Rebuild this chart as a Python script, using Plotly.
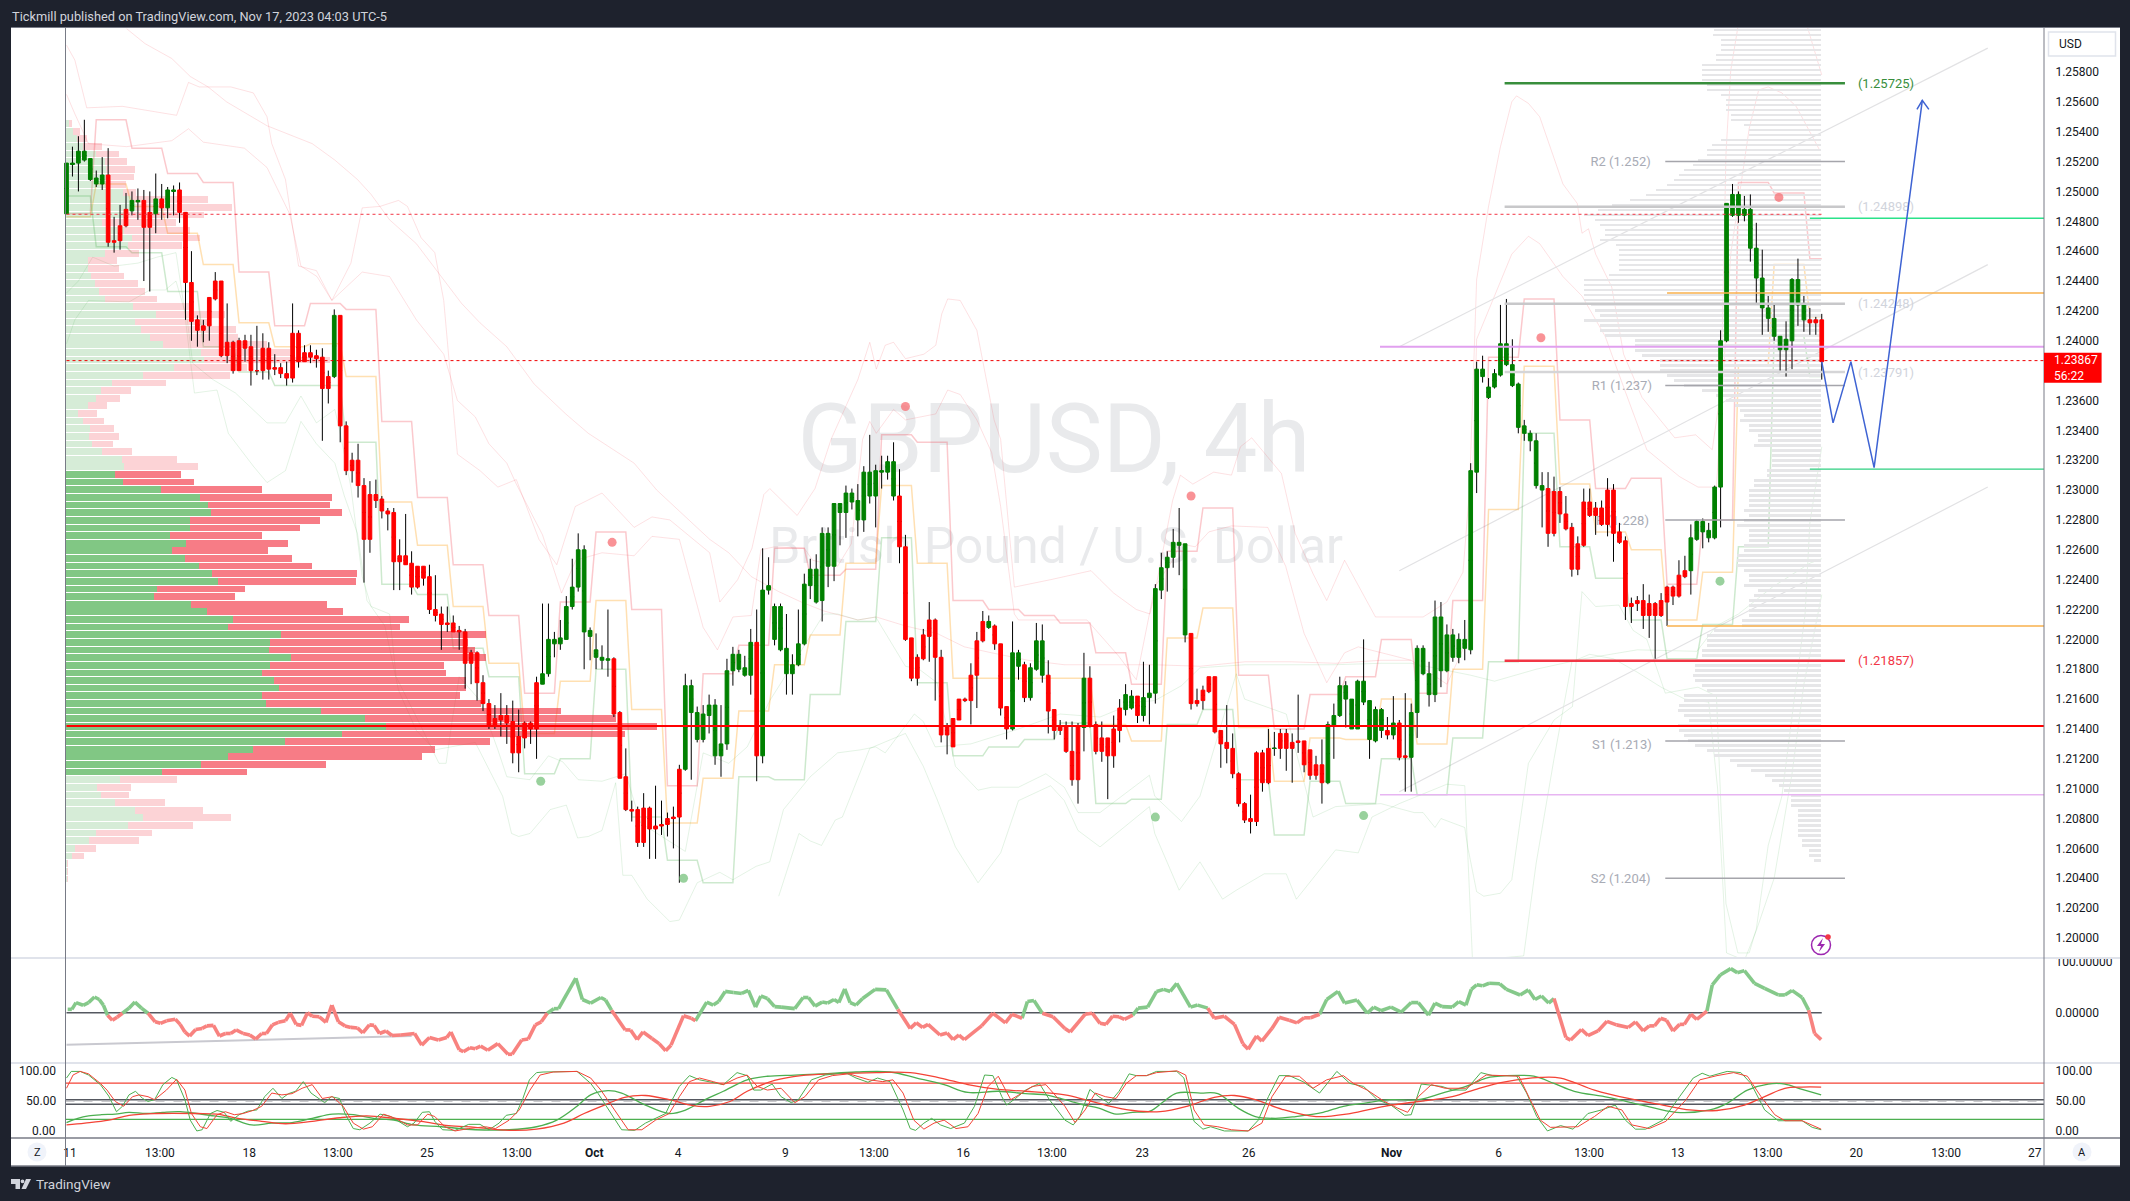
import plotly.graph_objects as go

W, H = 2130, 1201
DARK = "#1e222d"

# ---------------------------------------------------------------- candles
high = [1.2519,1.2530,1.2537,1.2548,1.2522,1.2514,1.2523,1.2529,1.2483,1.2491,
1.2499,1.2500,1.2502,1.2501,1.2500,1.2512,1.2505,1.2503,1.2504,1.2506,
1.2486,1.2460,1.2417,1.2414,1.2429,1.2446,1.2440,1.2425,1.2400,1.2402,
1.2404,1.2404,1.2410,1.2405,1.2399,1.2391,1.2385,1.2386,1.2425,1.2407,
1.2397,1.2397,1.2394,1.2395,1.2380,1.2421,1.2417,1.2346,1.2325,1.2331,
1.2308,1.2306,1.2307,1.2296,1.2288,1.2288,1.2267,1.2284,1.2259,1.2249,
1.2249,1.2250,1.2243,1.2222,1.2222,1.2216,1.2209,1.2207,1.2193,1.2192,
1.2176,1.2160,1.2156,1.2164,1.2156,1.2159,1.2153,1.2145,1.2145,1.2175,
1.2224,1.2224,1.2205,1.2213,1.2229,1.2254,1.2271,1.2263,1.2208,1.2204,
1.2196,1.2220,1.2188,1.2152,1.2127,1.2092,1.2088,1.2097,1.2088,1.2102,
1.2092,1.2084,1.2088,1.2116,1.2177,1.2173,1.2155,1.2156,1.2163,1.2160,
1.2156,1.2187,1.2195,1.2193,1.2189,1.2207,1.2220,1.2261,1.2255,1.2224,
1.2224,1.2217,1.2190,1.2220,1.2244,1.2254,1.2257,1.2275,1.2275,1.2291,
1.2291,1.2303,1.2301,1.2304,1.2316,1.2337,1.2317,1.2323,1.2323,1.2332,
1.2314,1.2270,1.2201,1.2190,1.2207,1.2225,1.2214,1.2193,1.2144,1.2147,
1.2160,1.2161,1.2184,1.2205,1.2219,1.2216,1.2210,1.2197,1.2155,1.2212,
1.2193,1.2185,1.2184,1.2211,1.2210,1.2186,1.2153,1.2146,1.2145,1.2145,
1.2144,1.2191,1.2182,1.2145,1.2145,1.2134,1.2149,1.2160,1.2170,1.2166,
1.2162,1.2185,1.2183,1.2237,1.2258,1.2259,1.2274,1.2288,1.2264,1.2204,
1.2167,1.2169,1.2175,1.2175,1.2139,1.2156,1.2137,1.2111,1.2091,1.2096,
1.2125,1.2126,1.2140,1.2138,1.2140,1.2140,1.2137,1.2163,1.2132,1.2126,
1.2122,1.2133,1.2145,1.2157,1.2175,1.2172,1.2160,1.2173,1.2200,1.2159,
1.2155,1.2154,1.2148,1.2162,1.2146,1.2164,1.2157,1.2196,1.2196,1.2185,
1.2226,1.2225,1.2210,1.2207,1.2204,1.2213,1.2318,1.2386,1.2390,1.2375,
1.2381,1.2424,1.2428,1.2401,1.2372,1.2347,1.2340,1.2338,1.2312,1.2312,
1.2309,1.2302,1.2296,1.2278,1.2269,1.2301,1.2301,1.2292,1.2293,1.2308,
1.2304,1.2278,1.2269,1.2228,1.2229,1.2237,1.2230,1.2225,1.2231,1.2236,
1.2236,1.2253,1.2256,1.2277,1.2280,1.2281,1.2278,1.2303,1.2407,1.2492,
1.2505,1.2500,1.2497,1.2498,1.2479,1.2461,1.2430,1.2424,1.2403,1.2413,
1.2442,1.2455,1.2430,1.2422,1.2416,1.2418]
body_top = [1.2519,1.2519,1.2527,1.2527,1.2522,1.2509,1.2511,1.2511,1.2467,1.2477,
1.2488,1.2494,1.2494,1.2494,1.2486,1.2495,1.2495,1.2501,1.2501,1.2501,
1.2486,1.2439,1.2414,1.2410,1.2429,1.2440,1.2440,1.2399,1.2399,1.2400,
1.2400,1.2396,1.2380,1.2395,1.2395,1.2382,1.2382,1.2378,1.2405,1.2405,
1.2392,1.2392,1.2390,1.2389,1.2376,1.2417,1.2417,1.2343,1.2320,1.2320,
1.2303,1.2297,1.2297,1.2294,1.2286,1.2285,1.2256,1.2256,1.2251,1.2249,
1.2249,1.2242,1.2220,1.2217,1.2211,1.2211,1.2206,1.2205,1.2191,1.2191,
1.2171,1.2157,1.2147,1.2149,1.2149,1.2145,1.2135,1.2144,1.2144,1.2171,
1.2177,1.2200,1.2200,1.2201,1.2222,1.2235,1.2260,1.2260,1.2206,1.2193,
1.2188,1.2187,1.2187,1.2151,1.2108,1.2086,1.2086,1.2087,1.2087,1.2075,
1.2076,1.2080,1.2081,1.2113,1.2169,1.2169,1.2151,1.2150,1.2156,1.2156,
1.2130,1.2179,1.2190,1.2190,1.2181,1.2198,1.2198,1.2233,1.2236,1.2222,
1.2222,1.2194,1.2183,1.2197,1.2237,1.2247,1.2247,1.2271,1.2271,1.2291,
1.2291,1.2298,1.2298,1.2293,1.2312,1.2312,1.2313,1.2313,1.2319,1.2319,
1.2296,1.2262,1.2201,1.2188,1.2203,1.2213,1.2213,1.2188,1.2142,1.2147,
1.2160,1.2160,1.2176,1.2199,1.2212,1.2212,1.2209,1.2197,1.2155,1.2191,
1.2191,1.2183,1.2181,1.2199,1.2199,1.2176,1.2153,1.2142,1.2142,1.2125,
1.2142,1.2174,1.2174,1.2143,1.2134,1.2134,1.2140,1.2154,1.2163,1.2162,
1.2162,1.2161,1.2164,1.2234,1.2248,1.2255,1.2265,1.2265,1.2264,1.2204,
1.2159,1.2166,1.2175,1.2175,1.2139,1.2131,1.2127,1.2110,1.2090,1.2080,
1.2124,1.2124,1.2127,1.2127,1.2137,1.2137,1.2131,1.2132,1.2132,1.2126,
1.2116,1.2116,1.2143,1.2149,1.2169,1.2169,1.2160,1.2172,1.2172,1.2159,
1.2153,1.2153,1.2139,1.2144,1.2144,1.2122,1.2151,1.2194,1.2194,1.2177,
1.2215,1.2215,1.2203,1.2203,1.2200,1.2200,1.2313,1.2381,1.2381,1.2369,
1.2378,1.2398,1.2398,1.2384,1.2371,1.2343,1.2338,1.2333,1.2303,1.2301,
1.2299,1.2299,1.2284,1.2275,1.2264,1.2292,1.2292,1.2288,1.2288,1.2300,
1.2300,1.2272,1.2266,1.2224,1.2226,1.2226,1.2224,1.2224,1.2226,1.2235,
1.2235,1.2243,1.2246,1.2268,1.2279,1.2279,1.2273,1.2302,1.2400,1.2492,
1.2498,1.2498,1.2488,1.2488,1.2462,1.2442,1.2422,1.2415,1.2403,1.2401,
1.2441,1.2441,1.2425,1.2414,1.2414,1.2414]
body_bot = [1.2485,1.2518,1.2519,1.2521,1.2508,1.2505,1.2505,1.2466,1.2466,1.2467,
1.2477,1.2487,1.2493,1.2476,1.2476,1.2485,1.2489,1.2489,1.2500,1.2486,
1.2439,1.2413,1.2407,1.2407,1.2410,1.2428,1.2390,1.2390,1.2380,1.2380,
1.2395,1.2380,1.2380,1.2380,1.2381,1.2381,1.2378,1.2375,1.2375,1.2386,
1.2386,1.2389,1.2388,1.2368,1.2368,1.2376,1.2343,1.2313,1.2313,1.2303,
1.2267,1.2267,1.2293,1.2286,1.2284,1.2252,1.2252,1.2250,1.2235,1.2235,
1.2241,1.2220,1.2216,1.2210,1.2210,1.2205,1.2205,1.2184,1.2184,1.2171,
1.2157,1.2142,1.2142,1.2146,1.2144,1.2124,1.2124,1.2134,1.2140,1.2140,
1.2170,1.2177,1.2197,1.2197,1.2200,1.2222,1.2235,1.2205,1.2202,1.2188,
1.2186,1.2186,1.2150,1.2107,1.2086,1.2085,1.2064,1.2064,1.2073,1.2073,
1.2075,1.2076,1.2080,1.2081,1.2113,1.2151,1.2133,1.2133,1.2149,1.2122,
1.2122,1.2130,1.2179,1.2180,1.2176,1.2176,1.2122,1.2122,1.2233,1.2200,
1.2193,1.2177,1.2177,1.2183,1.2197,1.2236,1.2225,1.2226,1.2249,1.2249,
1.2285,1.2285,1.2292,1.2280,1.2280,1.2296,1.2296,1.2312,1.2312,1.2296,
1.2262,1.2200,1.2174,1.2174,1.2187,1.2202,1.2188,1.2136,1.2136,1.2128,
1.2146,1.2159,1.2159,1.2176,1.2199,1.2208,1.2197,1.2154,1.2140,1.2140,
1.2182,1.2161,1.2161,1.2180,1.2176,1.2152,1.2139,1.2139,1.2125,1.2106,
1.2106,1.2141,1.2142,1.2125,1.2125,1.2122,1.2122,1.2139,1.2153,1.2154,
1.2149,1.2149,1.2161,1.2164,1.2233,1.2248,1.2255,1.2263,1.2203,1.2157,
1.2157,1.2159,1.2165,1.2138,1.2130,1.2127,1.2110,1.2090,1.2079,1.2078,
1.2078,1.2104,1.2104,1.2127,1.2127,1.2127,1.2127,1.2131,1.2116,1.2109,
1.2109,1.2104,1.2104,1.2142,1.2149,1.2160,1.2140,1.2140,1.2158,1.2133,
1.2132,1.2139,1.2136,1.2136,1.2121,1.2121,1.2121,1.2151,1.2177,1.2163,
1.2163,1.2179,1.2179,1.2188,1.2188,1.2194,1.2193,1.2312,1.2376,1.2362,
1.2369,1.2377,1.2384,1.2370,1.2342,1.2338,1.2333,1.2303,1.2300,1.2271,
1.2271,1.2284,1.2274,1.2247,1.2247,1.2263,1.2283,1.2283,1.2277,1.2277,
1.2271,1.2265,1.2222,1.2222,1.2224,1.2216,1.2216,1.2216,1.2216,1.2225,
1.2229,1.2229,1.2242,1.2246,1.2267,1.2272,1.2268,1.2268,1.2302,1.2400,
1.2484,1.2484,1.2484,1.2462,1.2442,1.2422,1.2415,1.2403,1.2394,1.2394,
1.2400,1.2424,1.2414,1.2412,1.2412,1.2386]
low = [1.2485,1.2510,1.2500,1.2520,1.2507,1.2503,1.2501,1.2463,1.2459,1.2461,
1.2476,1.2484,1.2481,1.2440,1.2433,1.2472,1.2481,1.2482,1.2484,1.2479,
1.2414,1.2400,1.2396,1.2399,1.2400,1.2427,1.2389,1.2385,1.2378,1.2380,
1.2386,1.2370,1.2377,1.2374,1.2374,1.2377,1.2375,1.2370,1.2372,1.2382,
1.2386,1.2385,1.2382,1.2333,1.2358,1.2375,1.2332,1.2310,1.2305,1.2295,
1.2238,1.2258,1.2288,1.2281,1.2273,1.2233,1.2233,1.2250,1.2230,1.2234,
1.2236,1.2217,1.2212,1.2193,1.2205,1.2205,1.2193,1.2167,1.2170,1.2159,
1.2152,1.2140,1.2140,1.2135,1.2130,1.2117,1.2111,1.2127,1.2130,1.2120,
1.2170,1.2175,1.2188,1.2193,1.2200,1.2220,1.2232,1.2180,1.2186,1.2180,
1.2180,1.2175,1.2148,1.2107,1.2085,1.2078,1.2061,1.2061,1.2053,1.2053,
1.2069,1.2068,1.2060,1.2037,1.2112,1.2106,1.2131,1.2131,1.2137,1.2116,
1.2108,1.2126,1.2169,1.2178,1.2175,1.2163,1.2105,1.2117,1.2230,1.2196,
1.2192,1.2163,1.2163,1.2182,1.2196,1.2227,1.2224,1.2212,1.2235,1.2239,
1.2263,1.2268,1.2287,1.2269,1.2272,1.2291,1.2275,1.2301,1.2307,1.2293,
1.2251,1.2199,1.2172,1.2169,1.2186,1.2185,1.2159,1.2131,1.2123,1.2128,
1.2146,1.2158,1.2143,1.2154,1.2198,1.2207,1.2193,1.2149,1.2133,1.2139,
1.2173,1.2158,1.2159,1.2179,1.2171,1.2137,1.2133,1.2136,1.2124,1.2102,
1.2090,1.2125,1.2141,1.2123,1.2118,1.2093,1.2114,1.2131,1.2149,1.2153,
1.2144,1.2145,1.2143,1.2157,1.2227,1.2232,1.2248,1.2243,1.2198,1.2153,
1.2155,1.2153,1.2164,1.2137,1.2114,1.2117,1.2107,1.2088,1.2077,1.2070,
1.2075,1.2098,1.2103,1.2122,1.2120,1.2112,1.2104,1.2124,1.2111,1.2106,
1.2106,1.2090,1.2103,1.2120,1.2148,1.2141,1.2140,1.2140,1.2156,1.2120,
1.2131,1.2134,1.2133,1.2133,1.2119,1.2098,1.2098,1.2134,1.2176,1.2155,
1.2158,1.2168,1.2178,1.2185,1.2184,1.2186,1.2190,1.2298,1.2372,1.2361,
1.2368,1.2376,1.2383,1.2369,1.2338,1.2333,1.2326,1.2301,1.2275,1.2262,
1.2269,1.2278,1.2273,1.2242,1.2243,1.2262,1.2282,1.2270,1.2276,1.2269,
1.2252,1.2264,1.2213,1.2211,1.2219,1.2207,1.2201,1.2187,1.2215,1.2209,
1.2223,1.2228,1.2241,1.2230,1.2266,1.2261,1.2265,1.2267,1.2275,1.2399,
1.2483,1.2479,1.2480,1.2453,1.2425,1.2404,1.2406,1.2400,1.2380,1.2376,
1.2381,1.2410,1.2406,1.2404,1.2404,1.2374]
bar_color_runs = [("g",7),("r",4),("g",2),("r",2),("g",1),("r",1),("g",2),("r",26),("g",1),("r",34),
("g",12),("r",12),("g",12),("r",1),("g",23),("r",15),("g",1),("r",3),("g",2),("r",1),("g",3),("r",6),
("g",1),("r",6),("g",2),("r",1),("g",8),("r",23),("g",10),("r",1),("g",1),("r",2),("g",23),("r",24),
("g",20),("r",3)]

# ---------------------------------------------------------------- left volume profile (rows from the top)
vp_buy = [7,17,25,38,68,87,90,95,95,127,145,155,130,80,130,147,138,87,50,50,57,65,75,87,149,200,154,166,186,215,
299,306,239,172,102,79,67,49,28,38,54,53,59,81,124,129,
109,127,211,297,314,321,275,275,230,266,235,264,294,323,336,202,195,277,312,370,359,476,451,449,498,451,434,460,471,434,
442,564,662,707,610,485,414,359,300,214,
120,70,78,110,154,172,138,67,52,21,14,4,4,4]
vp_sell = [7,15,22,42,50,48,63,56,38,28,169,213,176,165,145,150,119,76,63,68,72,95,100,115,136,152,168,210,196,230,
196,279,161,191,120,65,53,42,41,47,53,65,46,66,122,163,
146,156,223,291,270,289,287,243,204,225,212,236,250,320,305,194,179,300,300,388,379,452,438,456,430,385,406,424,413,437,
476,530,553,599,625,452,402,428,275,186,
126,74,62,109,149,193,143,124,110,46,27,2,2,2]
vp_top_price, vp_row_step = 1.25455, 0.000511
vp_value_area = (46, 86)

# ---------------------------------------------------------------- right volume profile (rows from the top)
rvp_vol = [230,233,215,215,215,225,225,255,255,255,255,245,245,215,205,205,205,193,193,165,155,155,215,235,245,245,265,275,295,305,
315,330,355,375,410,450,480,510,485,475,465,465,475,440,435,435,435,435,435,455,510,510,510,510,510,495,485,475,510,475,
475,465,400,400,400,385,345,345,345,330,315,295,255,225,205,185,175,165,175,155,155,135,135,145,105,105,105,105,115,115,
145,145,155,155,155,155,165,155,165,180,155,155,155,165,165,180,180,180,165,155,155,165,135,145,155,155,155,155,170,170,
230,245,245,245,255,255,270,270,270,275,270,255,245,295,295,305,308,295,283,308,305,295,285,270,245,230,195,180,150,120,
105,90,80,65,65,65,50,50,50,50,50,50,40,40,25,25,15]
rvp_top_price, rvp_row_step = 1.26080, 0.000335

# ---------------------------------------------------------------- daily step channels
day_start = [0,5,11,17,23,29,35,41,47,53,59,65,71,77,83,89,95,101,107,113,119,125,131,137,143,149,155,161,167,173,179,
185,191,197,203,209,215,221,227,233,239,245,251,257,263,269,275,281,287,293]
day_high = [1.2485,1.2548,1.2529,1.2512,1.2506,1.2446,1.2410,1.2425,1.2421,1.2346,1.2295,
1.2250,1.2216,1.2164,1.2225,1.2272,1.2220,1.2102,1.2177,1.2196,1.2261,
1.2243,1.2247,1.2337,1.2332,1.2226,1.2220,1.2216,1.2211,1.2191,1.2170,
1.2259,1.2288,1.2176,1.2140,1.2163,1.2175,1.2200,1.2164,1.2226,1.2389,
1.2428,1.2347,1.2301,1.2308,1.2237,1.2280,1.2506,1.2499,1.2455]
day_mid = [1.2483,1.2505,1.2490,1.2472,1.2451,1.2412,1.2396,1.2398,1.2376,1.2292,1.2263,
1.2222,1.2184,1.2137,1.2172,1.2226,1.2153,1.2077,1.2107,1.2152,1.2183,
1.2203,1.2251,1.2303,1.2251,1.2174,1.2174,1.2174,1.2174,1.2143,1.2132,
1.2201,1.2221,1.2141,1.2105,1.2134,1.2133,1.2160,1.2130,1.2180,1.2287,
1.2383,1.2304,1.2272,1.2260,1.2213,1.2245,1.2384,1.2451,1.2416]
day_low = [1.2497,1.2463,1.2459,1.2433,1.2396,1.2379,1.2370,1.2370,1.2332,1.2237,1.2230,
1.2194,1.2175,1.2110,1.2120,1.2180,1.2081,1.2052,1.2037,1.2108,1.2106,
1.2163,1.2212,1.2268,1.2171,1.2122,1.2128,1.2133,1.2144,1.2090,1.2093,
1.2143,1.2153,1.2106,1.2069,1.2105,1.2090,1.2120,1.2096,1.2134,1.2185,
1.2338,1.2262,1.2241,1.2213,1.2187,1.2210,1.2262,1.2403,1.2376]

# ---------------------------------------------------------------- pale envelopes
u1_bar = [10.1,13.2,17.7,20.8,23.8,26.9,33.7,38.3,41.3,45.1,48.9,51.2,54.3,58.8,63.4,66.4,69.5,74,78.6,83.9,87.7,95.4,99.2,108.1,
111.3,115.1,119.7,123.5,127.3,133,136.1,141,146.3,150.9,155.5,161.6,167.7,175.3,182.9,190.5,198.1,205.7,213.3,220.9,226]
u1_val = [1.2609,1.2599,1.2589,1.2577,1.2570,1.2560,1.2544,1.2537,1.2532,1.2521,1.2508,1.2498,1.2481,1.2465,1.2441,1.2425,1.2412,1.2396,1.2371,1.2351,1.2338,1.2318,1.2300,1.2267,
1.2258,1.2242,1.2232,1.2225,1.2219,1.2213,1.2215,1.2209,1.2204,1.2195,1.2191,1.2186,1.2183,1.2183,1.2183,1.2182,1.2185,1.2185,1.2184,1.2186,1.2186]
u2_bar = [0,1.4,3.4,9.4,18.5,20.5,22.3,27.6,31.4,33.7,34.5,36.8,39,42,44.6,47.8,49.7,52.7,55.8,57.3,59.6,61.9,63.4,65.7,69.5,72.5,
75.6,79.4,82.4,85.5,90,95.4,98.4,101.4,108.1,109.8,112.8,115.2,117.2,118.2,122.8,125.8,128.5,133,135,136.1,137.6,139,141,144.1,146.1,147.1,148.1,150.2,153,154,155.9,157,
159.3,165.4,172.2,173.7,176,179.8,182.1,182.9,185.9,187.2,189.3,192.8,195.8,197.3,199.2,204.2,206.5,209.5,211.8,214.8,220,228,232,234.7,235.8,237,
239,241,242.9,243.7,245.7,247.6,249.2,251.5,253.9,254.7,255.8,257,259.7,261.7,264.8,270.3,273.8,276.6,278.1,278.9,279.7,280.9,292.6,295]
u2_val = [1.2598,1.2588,1.2556,1.2557,1.2551,1.2573,1.2570,1.2570,1.2566,1.2550,1.2532,1.2508,1.2450,1.2447,1.2427,1.2452,1.2489,1.2490,1.2494,1.2490,1.2469,1.2459,1.2427,1.2324,1.2313,1.2302,
1.2307,1.2267,1.2250,1.2289,1.2298,1.2275,1.2282,1.2280,1.2258,1.2225,1.2240,1.2261,1.2297,1.2301,1.2283,1.2301,1.2334,1.2374,1.2399,1.2381,1.2397,1.2399,1.2388,1.2391,1.2397,1.2418,1.2428,1.2427,1.2407,1.2387,1.2347,1.2334,
1.2235,1.2240,1.2246,1.2240,1.2231,1.2220,1.2217,1.2231,1.2293,1.2310,1.2304,1.2312,1.2310,1.2329,1.2335,1.2311,1.2271,1.2244,1.2226,1.2253,1.2215,1.2215,1.2225,1.2245,1.2300,1.2441,
1.2490,1.2530,1.2560,1.2564,1.2559,1.2550,1.2532,1.2505,1.2492,1.2472,1.2475,1.2458,1.2436,1.2391,1.2362,1.2335,1.2337,1.2327,1.2369,1.2525,1.2581,1.2610,1.2610,1.2578]
u3_bar = [0,1.4,3.7,10.1,17.7,20.5,23,29.9,33.7,37.5,39.4,42.1,44.6,49.7,54.3,58.8,63.4,65.7,68.7,71,74,75.6,80,83.2,85.6,90,95.4,98.4,103,107,109.4,112,115.1,116.7,119,124,125.4,129.6,131.9,133.8,135,136.1,139,141,146.1,148.1,150.2,153,155.5,157,159.3,160,
171.5,176.8,179.8,182.9,185.9,187.2,189.7,192,195.8,201.9,204.9,208,211.8,214.8,217.1,220.9,226,232,235.5,237,242.9,245.7,247.6,249.2,251.5,254.7,258.6,261.7,265.6,271.1,274.2,277.3,279.7,282.8,284.4,286,288.3,290.7,294.6]
u3_val = [1.2565,1.2552,1.2532,1.2530,1.2534,1.2542,1.2533,1.2529,1.2516,1.2485,1.2450,1.2443,1.2427,1.2446,1.2443,1.2414,1.2391,1.2360,1.2349,1.2331,1.2318,1.2304,1.2270,1.2231,1.2253,1.2258,1.2256,1.2269,1.2267,1.2208,1.2193,1.2215,1.2216,1.2260,1.2262,1.2261,1.2253,1.2249,1.2264,1.2334,1.2346,1.2338,1.2354,1.2347,1.2351,1.2367,1.2364,1.2347,1.2325,1.2289,1.2217,1.2213,
1.2213,1.2189,1.2173,1.2235,1.2253,1.2264,1.2262,1.2272,1.2276,1.2275,1.2249,1.2204,1.2171,1.2191,1.2195,1.2191,1.2186,1.2170,1.2200,1.2401,1.2458,1.2470,1.2465,1.2456,1.2443,1.2430,1.2403,1.2369,1.2327,1.2309,1.2302,1.2302,1.2458,1.2542,1.2568,1.2570,1.2566,1.2557,1.2528]
l1_bar = [0,1.4,3.7,10.5,14,16.6,18.4,20.3,21.2,24.6,28.4,33.7,36.8,39.4,42,45.1,46,47.8,49.7,51.2,54.3,55.4,58.8,62.6,63.8,64.9,66,69.5,72.5,74,77.9,81,83.4,86,90,94,96.5,100,104,107,111.3,114.4,118.2,122.8,127.3,129.6,133,136,141,143.3,146.3,149.4,153.2,155.5,160,164.6,167.7,170,173.7,182,182.9,187.4,190.5,196.6,198,205,209.5,213.3,220.9,226.5,228,230,231,235,235.5,237,238.2,241,242.9,245.7,250,253.1,254.7,257,260.9,263.3,265.6,268.7,274.2,277.3,278.1,278.9,280.9,282.8,284,286,288.3,292.2,293,295]
l1_val = [1.2398,1.2414,1.2427,1.2426,1.2434,1.2434,1.2440,1.2414,1.2385,1.2374,1.2365,1.2345,1.2345,1.2363,1.2345,1.2354,1.2338,1.2302,1.2242,1.2222,1.2217,1.2175,1.2148,1.2117,1.2117,1.2148,1.2175,1.2159,1.2126,1.2108,1.2106,1.2122,1.2118,1.2106,1.2105,1.2110,1.2077,1.2068,1.2058,1.2124,1.2117,1.2128,1.2159,1.2188,1.2217,1.2217,1.2213,1.2215,1.2182,1.2180,1.2171,1.2115,1.2099,1.2101,1.2101,1.2110,1.2101,1.2084,1.2084,1.2109,1.2095,1.2078,1.2095,1.2177,1.2160,1.2150,1.2081,1.2088,1.2090,1.2084,1.2084,1.2074,1.2080,1.2074,1.2061,1.2031,1.2028,1.2030,1.2039,1.2117,1.2146,1.2155,1.2232,1.2222,1.2223,1.2206,1.2200,1.2164,1.2168,1.2162,1.2084,1.2023,1.1990,1.1990,1.2006,1.2062,1.2095,1.2217,1.2278,1.2329]
l2_bar = [0,2,4.4,8,12,15.2,18.4,19.6,21.5,25.3,27.2,31.4,33.7,36.8,39.4,42,45.1,46.7,48.9,50.5,53.5,55.8,58.8,61.9,68.7,71,73.3,74.8,76,77.9,81.3,84,85.9,87.7,90,92.3,93.5,95,97.6,101.4,103,106,109.8,112,115.9,118.2,120.5,125,129.6,133.4,136,137.6,142.5,144,146,152,160,167,173.7,179.8,182.9,187.4,190.5,198,213,221,226,236,240,247,255,264,274,277.3,281,286.7,293,295]
l2_val = [1.2432,1.2440,1.2456,1.2450,1.2452,1.2456,1.2459,1.2427,1.2365,1.2367,1.2338,1.2316,1.2305,1.2313,1.2346,1.2331,1.2318,1.2296,1.2271,1.2226,1.2209,1.2166,1.2139,1.2126,1.2131,1.2113,1.2095,1.2070,1.2068,1.2070,1.2086,1.2089,1.2067,1.2068,1.2072,1.2104,1.2042,1.2042,1.2026,1.2011,1.2012,1.2037,1.2044,1.2039,1.2048,1.2051,1.2086,1.2108,1.2124,1.2126,1.2128,1.2124,1.2150,1.2145,1.2128,1.2130,1.2140,1.2150,1.2148,1.2158,1.2159,1.2169,1.2181,1.2183,1.2183,1.2184,1.2184,1.2176,1.2172,1.2180,1.2187,1.2193,1.2192,1.2209,1.2217,1.2235,1.2251,1.2254]
l3_bar = [119.7,123.1,125,126.9,129.2,130.4,135,141,144,146.3,149.4,153.2,157,160,165.4,167.7,170,173.7,182,182.9,187,190.5,194.3,196.6,201.3,205,206.7,213.3,217.1,219.4,224,232,235,236.3,244.9,247,250,253,256,260,264,268,272,276,277.5,279,282,284,287,290,292,295]
l3_val = [1.2028,1.2070,1.2065,1.2062,1.2079,1.2081,1.2127,1.2137,1.2115,1.2093,1.2061,1.2037,1.2057,1.2092,1.2102,1.2092,1.2072,1.2061,1.2088,1.2070,1.2032,1.2051,1.2026,1.2032,1.2043,1.2043,1.2026,1.2059,1.2057,1.2081,1.2090,1.2103,1.2102,1.1985,1.1988,1.2050,1.2120,1.2185,1.2190,1.2187,1.2178,1.2168,1.2160,1.2158,1.2100,1.1990,1.1985,1.2005,1.2040,1.2110,1.2170,1.2230]

# ---------------------------------------------------------------- oscillator pane
osc_bar = [0.2,0.9,1.6,2.8,3.7,4.7,5.5,6.2,6.9,7.7,8.5,9.4,10.5,11.5,12.6,13.7,14.9,15.8,16.8,18.3,19.1,19.9,20.7,21.7,22.8,23.6,24.7,25.7,26.7,27.6,28.5,29.7,30.8,31.8,32.8,33.6,34.6,35.6,36.8,37.6,38.6,39.5,40.5,41.3,42.5,43.6,44.6,45.7,46.8,47.8,48.9,49.8,50.9,51.7,52.6,53.7,54.7,56.2,58.5,59.7,61,62.5,63.9,64.6,66,66.7,67.8,68.7,69.6,70.8,72.5,74.2,74.9,76.5,77.6,78.8,79.8,80.8,81.9,82.7,85.6,86.7,88.1,89.8,90.6,91.6,93.9,94.8,95.9,96.9,98.4,99.6,100.7,101.6,103.7,105,105.7,107.6,108.7,109.6,110.7,112.1,113.5,114.6,115.8,116.7,117.8,119,120.1,122.4,123.8,124.7,125.8,127,127.9,129,129.8,130.8,131.7,132.7,133.8,135.9,137.8,139.7,141.8,142.8,143.9,144.8,146.8,148,149,150,150.9,153.8,155.7,157.8,158.9,160.6,161.5,162.6,164,165.8,167.8,
168.7,171.2,172.4,173.7,174.7,175.8,176.9,177.8,179.2,180.1,181.7,183.2,184.4,185.5,186.6,188.9,190.1,191.8,192.9,194.6,196.3,197.7,198.6,200,200.9,202.6,203.8,205.5,206.8,208,209.1,210.6,211.8,213.7,214.8,216.9,218.6,219.7,220.9,222.6,224.3,226,227.2,228.9,230,231.2,232.9,234,235.2,236.1,237,238,239.1,240.9,242,244.3,245.7,246.8,247.9,249.1,250,252,252.8,254.6,255.7,257.4,258.9,260.5,262.5,263.7,265,266,266.9,267.9,268.9,270,271.1,271.9,273,274,275.7,276.6,278,279.7,280.8,282,283.7,285.4,287.7,288.8,290,291.7,292.8,293.8,294.9]
osc_val = [6.6,6.6,19.9,14.6,19.9,31,26,15,-5,-15,-9,-1,9,21,9,-1,-18,-21,-16,-13,-23,-38,-46,-33,-31,-26,-25,-46,-41,-41,-34,-41,-44,-52,-41,-41,-24,-19,-16,-1,-23,-25,0,-7,-8,-19,15,-18,-26,-29,-30,-40,-24,-25,-41,-36,-45,-44,-41,-64,-49,-54,-49,-38,-73,-77,-69,-71,-66,-74,-61,-82,-82,-54,-52,-24,-18,-1,8,8,68,26,19,30,25,5,-34,-34,-53,-38,-51,-61,-75,-64,-6,-11,-16,21,15,22,42,40,38,44,11,33,28,12,11,8,30,30,13,21,19,26,20,47,20,15,28,46,45,7,-31,-20,-29,-23,-44,-40,-53,-44,-53,-26,-1,-20,-3,-11,22,24,-1,-8,-31,
-38,-3,-1,-21,-23,-7,-8,-13,-5,9,11,42,46,42,58,11,15,9,-11,-7,-23,-61,-72,-46,-56,-31,-9,-15,-20,-10,-10,-3,26,42,19,25,-1,11,4,11,1,20,20,-5,19,12,11,22,15,46,55,53,58,57,46,35,45,26,33,19,28,-49,-54,-33,-45,-36,-17,-24,-29,-18,-36,-26,-26,-11,-15,-36,-23,-23,-3,-13,3,55,75,87,79,83,58,48,35,35,44,30,5,-41,-53]
osc_trend_bar = [0, 58]
osc_trend_val = [-63, -46]

# ---------------------------------------------------------------- stochastic pane
fast_g_bar = [0,.8,2.3,3.7,5.7,7.1,8.4,9.4,10.5,11.6,12.8,13.7,14.8,16.2,17.7,18.5,19.9,20.8,21.9,22.8,24.2,25.3,26.5,27.6,29,30.5,32,33.3,34.7,36.2,37.3,38.5,39.8,41.1,43.4,44.5,45.9,46.8,48.2,49.3,51,52.7,54.5,56.2,57.3,58.4,59.8,61,61.9,63.2,65.3,67.6,69.5,71,72.7,73.9,75.6,76.7,77.8,79,80.1,85.8,88.1,89.3,91.6,93.3,95.5,97.3,100.7,101.8,103,104.7,106.4,108.1,110.4,112.7,114.4,115.5,116.7,118.6,120.1,121.8,123,125.2,127.5,130.9,132.7,134.7,136.3,138.4,140.6,141.8,142.7,144.1,145.4,146.9,148.6,150.9,152.6,154.3,155.7,157.2,158,159.5,161.2,163.5,165.2,167.8,
169.2,170.3,172,173.5,175.2,176.9,178.6,179.8,181.5,183.2,186.6,187.8,189.5,191,192.3,194.6,198.6,200.3,202,203.8,205.5,207.8,210.6,213.5,215.7,218,220.3,222.6,224.9,226,227.7,231.2,232.9,235.2,237.7,239.7,243.7,245.4,247.1,248.9,251.1,253.2,255.7,258,260.3,262,263.7,265.4,268.3,271.1,273.4,274.9,276.2,279.1,281.4,283.1,285.4,287.7,291.7,293.4,294.9]
fast_g_val = [88,99,99,93,77,58,32,41,60,66,54,49,52,77,89,85,52,18,0,2,29,34,31,16,27,33,35,57,71,54,62,66,82,63,47,57,54,29,4,2,13,28,24,13,7,13,31,32,16,2,1,11,11,2,13,26,29,54,85,97,98,99,79,63,29,2,1,13,29,52,74,92,85,82,77,97,92,68,68,78,57,47,52,85,93,97,88,81,88,82,35,4,1,13,21,10,4,13,41,93,92,57,43,54,68,79,52,18,
10,24,69,57,46,66,95,92,92,99,99,88,16,3,7,0,0,18,57,92,92,82,63,99,79,74,52,43,26,27,78,74,68,68,97,92,92,63,24,0,9,3,29,35,43,18,3,3,18,57,88,96,91,99,97,79,35,17,17,6,2]
fast_r_bar = [0,1.1,2.3,3.7,5.7,6.8,8.2,9.6,11.1,12.2,13.7,14.8,16.8,18.5,19.9,21,22.5,23.6,25.3,26.7,28.2,29.7,31.3,32.8,34.5,36.2,37.9,39.6,41.3,43,44.7,46.5,48.2,49.9,51.4,53.3,55.3,57.3,59,60.7,61.9,63.6,65.3,67.6,70.4,72.1,74.4,76.1,77.9,79.6,81.8,85.8,88.1,89.8,92.1,94.4,96.7,99,101.3,103,104.7,106.4,108.7,110.4,112.7,114.4,116.1,117.8,120.1,122.4,124.1,126.4,128.7,131.5,134.9,137.2,138.9,140.6,142.4,144.1,145.8,147.5,149.5,151.5,153.2,154.9,156.6,158.7,160.6,162.3,164.6,166.3,167.8,
169.5,171.2,172.9,174.6,176.4,178.1,179.8,181.5,183.2,186.6,188.1,189.5,191.2,193.5,195.8,198.6,200.9,202.6,204.9,207.2,209.5,211.8,214.6,216.3,218.6,221.5,223.7,225.4,227.2,229.4,231.7,235.2,238.6,242,244.1,246,247.7,249.4,251.7,254,256.8,259.1,261.4,263.1,266,268.8,272.2,274.5,277.4,280.2,282.5,284.8,287.1,288.8,291.7,294.9]
fast_r_val = [71,93,99,95,79,68,49,41,57,60,57,52,68,86,68,29,7,4,27,32,27,29,34,41,63,60,62,71,77,54,57,41,13,3,7,28,21,10,10,28,24,7,0,4,7,4,18,35,68,93,98,99,88,68,35,2,2,18,29,57,82,88,82,77,88,93,74,68,71,47,57,85,92,95,85,82,85,63,18,3,13,18,4,7,29,74,91,52,63,74,77,57,41,
14,35,63,57,54,79,92,92,97,100,93,35,10,7,2,0,13,57,91,91,71,85,92,79,68,49,38,31,57,77,71,71,93,92,91,52,18,6,7,7,24,41,35,10,4,16,52,85,92,97,91,57,27,17,17,3]
slow_g_bar = [0,1.9,3.7,5.9,8.2,10.5,13.4,16.2,19.1,21.9,24.8,27.6,31.1,34.5,37.9,41.3,44.7,48.2,51.6,55,58.4,63,68.7,74.4,79,82.4,85.8,88.1,91,93.3,97.3,101.3,104.1,107.5,110.4,114.4,117.8,122.4,127,132.7,138.4,142.9,147.5,151.5,156.6,161.2,164.6,167.8,
170.7,173.5,176.4,179.2,182.1,184.4,186.6,190.6,193.5,196.9,199.8,203.2,206.6,211.2,214.6,218,222.6,227.2,231.2,235.2,238.6,242,246.6,250,253.4,259.1,264.8,270.5,276.2,279.1,282.5,286,288.8,291.7,294.9]
slow_g_val = [14,21,25,27,28,31,29,31,32,29,25,21,10,13,14,21,28,27,21,18,10,7,2,2,7,18,41,60,67,63,43,29,35,53,66,85,91,93,95,98,98,88,77,64,66,62,60,52,
44,38,28,31,33,49,63,63,62,38,24,21,24,31,41,46,52,52,63,74,88,92,91,79,66,56,43,31,35,46,68,78,78,69,60]
slow_r_bar = [0,3.1,7.1,10.5,15.1,21.9,25.3,28.8,32.8,36.8,41.3,45.9,50.5,55,59.6,64.2,68.7,74.4,79,83.6,87,90.4,93.8,97.3,101.3,105.3,108.1,111.5,114.4,119,123.5,129.2,136.1,141.8,146.9,151.5,156.6,161.2,167.8,
171.2,174.6,179.2,183.8,188.3,192.9,196.3,199.8,204.3,210,215.7,221.5,227.2,232.9,237.4,242,247.7,251.1,256.8,262.5,268.3,272.8,277.4,282,285.4,288.8,291.7,294.9]
slow_r_val = [10,13,18,26,29,29,28,21,16,12,16,22,25,21,16,9,6,1,3,13,29,43,56,59,52,42,41,49,66,84,92,95,97,97,88,77,69,66,60,
52,43,34,32,41,56,59,52,36,24,29,41,49,57,71,82,89,88,68,54,43,35,34,43,57,71,73,73]

# ---------------------------------------------------------------- levels
price_ticks = [1.20,1.202,1.204,1.206,1.208,1.21,1.212,1.214,1.216,1.218,1.22,1.222,1.224,1.226,1.228,1.23,1.232,1.234,1.236,1.238,1.24,1.242,1.244,1.246,1.248,1.25,1.252,1.254,1.256,1.258]
price_tick_text = ["%.5f" % p for p in price_ticks]
date_tick_bar = [0.6,15.7,30.7,45.6,60.6,75.7,88.7,102.8,120.8,135.7,150.7,165.6,180.8,198.7,222.7,240.7,255.9,270.8,285.9,300.8,315.9,330.8]
date_tick_text = ["11","13:00","18","13:00","25","13:00","<b>Oct</b>","4","9","13:00","16","13:00","23","26","<b>Nov</b>","6","13:00","13","13:00","20","13:00","27"]
last_price = 1.23867
channel_bar = [224, 322.9]
channel_upper = [1.2396, 1.2596]
channel_middle = [1.2246, 1.2451]
channel_lower = [1.2098, 1.2302]
path_bar = [295, 296.9, 299.9, 303.8, 311.9]
path_price = [1.2386, 1.2345, 1.2386, 1.2315, 1.2561]
head_bar = [311, 311.9, 313]
head_price = [1.2555, 1.2561, 1.2555]
red_dot_bar = [91.7, 141, 189, 247.8, 287.8]
red_dot_price = [1.2265, 1.2356, 1.2296, 1.2402, 1.2496]
green_dot_bar = [79.7, 103.7, 183, 218, 277.9]
green_dot_price = [1.2105, 1.2040, 1.2081, 1.2082, 1.2239]

# ---------------------------------------------------------------- geometry helpers
XL, XR = 11, 2044
def bar_at(px):
    return (px - 66.5) / 5.95
def price_at(py):
    return 1.2 + (938 - py) / 14931
def dom(top, bottom):
    return [1 - bottom / H, 1 - top / H]
xmin, xmax = bar_at(XL), bar_at(XR)
xdom = [XL / W, XR / W]

fig = go.Figure()
def line(x, y, color, width=1, dash="solid", xa="x", ya="y", shape="linear"):
    fig.add_trace(go.Scatter(x=x, y=y, mode="lines", xaxis=xa, yaxis=ya, hoverinfo="skip",
                             line=dict(color=color, width=width, dash=dash, shape=shape), showlegend=False))

# watermark
fig.add_trace(go.Scatter(x=[bar_at(1054)], y=[price_at(448)], mode="text", text=["GBPUSD, 4h"], xaxis="x", yaxis="y",
                         textfont=dict(family="Roboto", size=96, color="#e9eaec"), hoverinfo="skip", showlegend=False))
fig.add_trace(go.Scatter(x=[bar_at(1056)], y=[price_at(550)], mode="text", text=["British Pound / U.S. Dollar"], xaxis="x", yaxis="y",
                         textfont=dict(family="Roboto", size=50, color="#e9eaec"), hoverinfo="skip", showlegend=False))

# pale envelopes
PALE_R, PALE_G = "rgba(242,54,69,0.15)", "rgba(76,175,80,0.15)"
for bx, vy in ((u1_bar, u1_val), (u2_bar, u2_val), (u3_bar, u3_val)):
    line(bx, vy, PALE_R)
for bx, vy in ((l1_bar, l1_val), (l2_bar, l2_val), (l3_bar, l3_val)):
    line(bx, vy, PALE_G)

# diagonal channel
for vy in (channel_upper, channel_middle, channel_lower):
    line(channel_bar, vy, "#e2e2e4", 1.2)

# daily steps
def steps(vals, color):
    xs, ys = [], []
    for k, v in enumerate(vals):
        end = day_start[k + 1] - 1 if k + 1 < len(day_start) else 295
        xs += [day_start[k], end]
        ys += [v, v]
    line(xs, ys, color, 1.5)
steps(day_high, "rgba(242,54,69,0.27)")
steps(day_mid, "rgba(255,152,0,0.30)")
steps(day_low, "rgba(76,175,80,0.28)")

# level labels below the candles
def label(bar, price, txt, color):
    fig.add_trace(go.Scatter(x=[bar], y=[price], mode="text", text=[txt], xaxis="x", yaxis="y", hoverinfo="skip",
                             textfont=dict(family="Roboto", size=13, color=color), showlegend=False))
PIV = "#a8abb5"
label(261.2, 1.2519, "R2 (1.252)", PIV)
label(261.4, 1.2369, "R1 (1.237)", PIV)
label(261.5, 1.2279, "P (1.228)", PIV)
label(261.4, 1.2129, "S1 (1.213)", PIV)
label(261.2, 1.2039, "S2 (1.204)", PIV)
label(305.8, 1.25715, "(1.25725)", "#388e3c")
label(305.8, 1.24888, "(1.24898)", "#d1d4dc")
label(305.8, 1.24238, "(1.24248)", "#d1d4dc")
label(305.8, 1.23781, "(1.23791)", "#d1d4dc")
label(305.8, 1.21847, "(1.21857)", "#f23645")

# left volume profile
vp_rows = [vp_top_price - k * vp_row_step for k in range(len(vp_buy))]
def va(k):
    return vp_value_area[0] <= k < vp_value_area[1]
fig.add_trace(go.Bar(y=vp_rows, x=vp_buy, orientation="h", width=0.00045, xaxis="x2", yaxis="y", hoverinfo="skip", showlegend=False,
                     marker=dict(line=dict(width=0), color=["rgba(76,175,80,0.7)" if va(k) else "rgba(76,175,80,0.23)" for k in range(len(vp_buy))])))
fig.add_trace(go.Bar(y=vp_rows, x=vp_sell, orientation="h", width=0.00045, xaxis="x2", yaxis="y", hoverinfo="skip", showlegend=False,
                     marker=dict(line=dict(width=0), color=["rgba(242,54,69,0.65)" if va(k) else "rgba(242,54,69,0.22)" for k in range(len(vp_buy))])))
# right volume profile
rvp_rows = [rvp_top_price - k * rvp_row_step for k in range(len(rvp_vol))]
fig.add_trace(go.Bar(y=rvp_rows, x=rvp_vol, orientation="h", width=0.00016, xaxis="x3", yaxis="y", hoverinfo="skip", showlegend=False,
                     marker=dict(line=dict(width=0), color="#e6e6e8")))

# candles
flags = "".join(c * n for c, n in bar_color_runs)
bars = list(range(len(high)))
assert len(flags) == len(high) == len(low) == len(body_top) == len(body_bot) == 296
open_ = [b if c == "g" else t for c, t, b in zip(flags, body_top, body_bot)]
close = [t if c == "g" else b for c, t, b in zip(flags, body_top, body_bot)]
mid = [(t + b) / 2 for t, b in zip(body_top, body_bot)]
wick = dict(line=dict(color="#000000", width=1), fillcolor="#000000")
fig.add_trace(go.Candlestick(x=bars, open=mid, close=mid, high=[max(a, b) for a, b in zip(high, body_top)],
                             low=[min(a, b) for a, b in zip(low, body_bot)], xaxis="x4", yaxis="y", whiskerwidth=0,
                             increasing=wick, decreasing=wick, hoverinfo="skip", showlegend=False))
fig.add_trace(go.Candlestick(x=bars, open=open_, close=close, high=body_top, low=body_bot, xaxis="x4", yaxis="y", whiskerwidth=0,
                             increasing=dict(line=dict(color="#008000", width=1), fillcolor="#008000"),
                             decreasing=dict(line=dict(color="#ff0000", width=1), fillcolor="#ff0000"),
                             hoverinfo="skip", showlegend=False))

# horizontal levels
def level(p, b0, b1, color, width=1, dash="solid"):
    line([b0, b1], [p, p], color, width, dash, xa="x4")
level(1.24847, 0, 295, "#f23645", 1, "dot")
level(last_price, 0, xmax, "#f00000", 1, "dot")
level(1.2142, 0, xmax, "#ff0000", 2.2)
level(1.2396, bar_at(1380), xmax, "#e1a0ef", 2)
level(1.2096, bar_at(1380), xmax, "#e7b5f2", 1.5)
level(1.2482, 293, xmax, "#2be28a", 1.5)
level(1.2314, 293, xmax, "#2ecf80", 1.3)
level(1.2432, 269, xmax, "#f9b04c", 1.5)
level(1.2209, 269, xmax, "#f9b04c", 1.5)
level(1.25725, 241.7, 298.9, "#388e3c", 2.5)
level(1.24898, 241.7, 298.9, "#c8c8ca", 2.5)
level(1.24248, 241.7, 298.9, "#c8c8ca", 2.5)
level(1.23791, 241.7, 298.9, "#d5d5d7", 2.5)
level(1.21857, 241.7, 298.9, "#f23645", 2.5)
for p in (1.2520, 1.2370, 1.2280, 1.2132, 1.2040):
    level(p, 268.7, 298.9, "#a5a5ab", 1.5)

# projected path
line(path_bar, path_price, "#3e63d3", 1.5, xa="x4")
line(head_bar, head_price, "#3e63d3", 1.5, xa="x4")

# dots
fig.add_trace(go.Scatter(x=red_dot_bar, y=red_dot_price, mode="markers", xaxis="x4", yaxis="y", hoverinfo="skip", showlegend=False,
                         marker=dict(color="rgba(247,110,115,0.75)", size=9)))
fig.add_trace(go.Scatter(x=green_dot_bar, y=green_dot_price, mode="markers", xaxis="x4", yaxis="y", hoverinfo="skip", showlegend=False,
                         marker=dict(color="rgba(110,190,115,0.7)", size=9)))

# oscillator
gx, gy, rx, ry = [], [], [], []
for k in range(len(osc_bar) - 1):
    a, b = osc_val[k], osc_val[k + 1]
    if (a + b) / 2 >= 0:
        gx += [osc_bar[k], osc_bar[k + 1], None]; gy += [a, b, None]
    else:
        rx += [osc_bar[k], osc_bar[k + 1], None]; ry += [a, b, None]
line(osc_trend_bar, osc_trend_val, "#c9c9d0", 2, xa="x5", ya="y2")
line([0, 295], [0, 0], "#555860", 1.5, xa="x5", ya="y2")
line(gx, gy, "#85c98a", 3.6, xa="x5", ya="y2")
line(rx, ry, "#f8827f", 3.6, xa="x5", ya="y2")

# stochastic
pane_left = bar_at(65.5)
for v, c, wd, ds in ((79.4, "#f44336", 1.2, "solid"), (19.4, "#4caf50", 1.2, "solid"), (52, "#555860", 1.5, "solid"),
                     (44.4, "#555860", 1.5, "solid"), (49.4, "#b8b8bc", 1, "dash")):
    line([pane_left, xmax], [v, v], c, wd, ds, xa="x5", ya="y3")
line(slow_g_bar, slow_g_val, "#4caf50", 1.3, xa="x5", ya="y3", shape="spline")
line(slow_r_bar, slow_r_val, "#f44336", 1.3, xa="x5", ya="y3", shape="spline")
line(fast_g_bar, fast_g_val, "#4caf50", 1, xa="x5", ya="y3")
line(fast_r_bar, fast_r_val, "#f44336", 1, xa="x5", ya="y3")

# ---------------------------------------------------------------- page furniture
def px(x): return x / W
def py(y): return 1 - y / H
def rect(x0, y0, x1, y1, fill, layer="below", color=None, width=0):
    return dict(type="rect", xref="paper", yref="paper", x0=px(x0), x1=px(x1), y0=py(y0), y1=py(y1), fillcolor=fill,
                line=dict(color=color or fill, width=width), layer=layer)
def seg(x0, y0, x1, y1, color, width=1):
    return dict(type="line", xref="paper", yref="paper", x0=px(x0), x1=px(x1), y0=py(y0), y1=py(y1),
                line=dict(color=color, width=width), layer="above")
def poly(points, fill):
    d = "M " + " L ".join(f"{px(a):.5f},{py(b):.5f}" for a, b in points) + " Z"
    return dict(type="path", xref="paper", yref="paper", path=d, fillcolor=fill, line=dict(width=0), layer="above")
def circle(cx, cy, r, fill, color=None, width=0):
    return dict(type="circle", xref="paper", yref="paper", x0=px(cx - r), x1=px(cx + r), y0=py(cy + r), y1=py(cy - r),
                fillcolor=fill, line=dict(color=color or fill, width=width), layer="above")
shapes = [rect(XL, 28, 2120, 1166, "#ffffff"),
          seg(XL, 27.5, 2120, 27.5, "#787b86"),
          seg(XL, 958, 2120, 958, "#e0e3eb", 2),
          seg(XL, 1063, 2120, 1063, "#e0e3eb", 2),
          seg(XL, 1138, 2120, 1138, "#787b86", 1.5),
          seg(XL, 1166, 2120, 1166, "#787b86", 1.5),
          seg(65.5, 28, 65.5, 1166, "#787b86"),
          seg(2044, 28, 2044, 1166, "#787b86"),
          rect(2044, 352.7, 2101.6, 382.7, "#ff0000", "above"),
          rect(2048.5, 32, 2115.5, 56, "rgba(255,255,255,0)", "above", "#e0e3eb", 1.5),
          circle(37, 1152, 9.5, "#f0f3fa"), circle(2082, 1152, 9.5, "#f0f3fa"),
          circle(1821, 945, 9.5, "rgba(255,255,255,0)", "#9c27b0", 1.5),
          circle(1828, 937, 2.8, "#f23645"),
          poly([(1823, 938), (1817, 946), (1821, 946), (1819, 952), (1825, 944), (1821, 944)], "#9c27b0"),
          poly([(11, 1179), (20, 1179), (20, 1189), (15.5, 1189), (15.5, 1184), (11, 1184)], "#d1d4dc"),
          poly([(26, 1179), (31, 1179), (26, 1189), (21.5, 1189)], "#d1d4dc"),
          circle(22.5, 1181.3, 1.9, "#d1d4dc")]

def text(x, y, s, color, size=12, anchor="left", family="Roboto"):
    return dict(xref="paper", yref="paper", x=px(x), y=py(y), text=s, showarrow=False, xanchor=anchor, yanchor="middle",
                align=anchor, font=dict(family=family, size=size, color=color))
annotations = [text(10, 16, "Tickmill published on TradingView.com, Nov 17, 2023 04:03 UTC-5", "#d1d4dc", 12.8),
               text(34, 1184, "TradingView", "#d1d4dc", 13.5),
               text(2057, 44, "USD", "#131722", 12),
               text(2052, 367.5, "1.23867<br>56:22", "#ffffff", 12),
               text(37, 1152, "Z", "#131722", 11, "center"),
               text(2082, 1152, "A", "#131722", 11, "center"),
               text(58, 1071, "100.00", "#131722", 12, "right"),
               text(58, 1101, "50.00", "#131722", 12, "right"),
               text(58, 1131, "0.00", "#131722", 12, "right")]

hidden = dict(visible=False, showgrid=False, zeroline=False, fixedrange=True, automargin=False)
tick_font = dict(family="Roboto", size=12, color="#131722")
right_axis = dict(side="right", showgrid=False, zeroline=False, showline=False, ticks="outside", ticklen=8, automargin=False,
                  tickcolor="rgba(0,0,0,0)", tickfont=tick_font, tickmode="array", fixedrange=True)
fig.update_layout(
    width=W, height=H, margin=dict(l=0, r=0, t=0, b=0, pad=0, autoexpand=False), paper_bgcolor=DARK, plot_bgcolor="#ffffff",
    barmode="stack", bargap=0, boxgap=0.38, boxgroupgap=0, showlegend=False, shapes=shapes, annotations=annotations, hovermode=False,
    xaxis=dict(domain=xdom, range=[xmin, xmax], anchor="y", **hidden),
    xaxis2=dict(domain=xdom, range=[-120, 4368], overlaying="x", anchor="y", **hidden),
    xaxis3=dict(domain=xdom, range=[3888, -479], overlaying="x", anchor="y", **hidden),
    xaxis4=dict(domain=xdom, range=[xmin, xmax], overlaying="x", anchor="y", rangeslider=dict(visible=False), **hidden),
    xaxis5=dict(domain=xdom, range=[xmin, xmax], anchor="y3", side="bottom", showgrid=False, zeroline=False, showline=False,
                tickmode="array", tickvals=date_tick_bar, ticktext=date_tick_text, ticks="outside", ticklen=4, automargin=False,
                tickcolor="rgba(0,0,0,0)", tickfont=tick_font, fixedrange=True),
    yaxis=dict(domain=dom(28, 958), range=[price_at(958), price_at(28)], anchor="x", tickvals=price_ticks,
               ticktext=price_tick_text, **right_axis),
    yaxis2=dict(domain=dom(958, 1063), range=[-99.2, 107.9], anchor="x5", tickvals=[100, 0],
                ticktext=["100.00000", "0.00000"], **right_axis),
    yaxis3=dict(domain=dom(1063, 1138), range=[-11.7, 113], anchor="x5", tickvals=[100, 50, 0],
                ticktext=["100.00", "50.00", "0.00"], **right_axis),
)
fig.write_html("out.html", config={"displayModeBar": False},
               post_script="document.body.style.margin='0';document.body.style.background='%s';document.documentElement.style.overflow='hidden';" % DARK)
